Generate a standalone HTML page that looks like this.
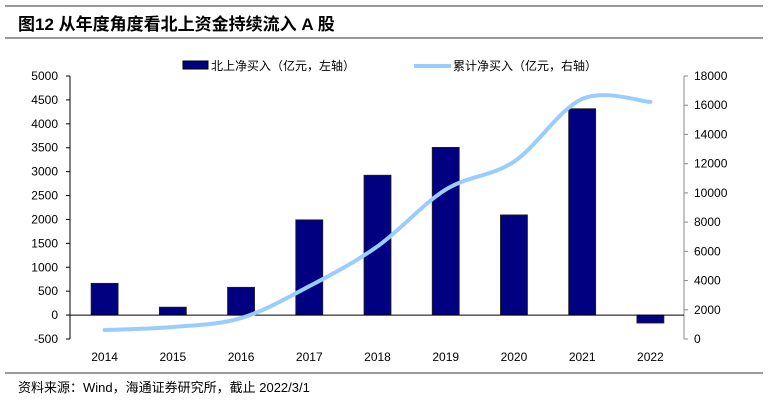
<!DOCTYPE html>
<html><head><meta charset="utf-8"><style>
body{margin:0;background:#fff;}
svg{display:block;font-family:"Liberation Sans","Noto Sans CJK SC",sans-serif;}
</style></head><body>
<svg width="768" height="402">
<line x1="5" y1="6" x2="763" y2="6" stroke="#999" stroke-width="2"/>
<text x="18" y="30" font-size="17" font-weight="bold" fill="#000">图12 从年度角度看北上资金持续流入 A 股</text>
<line x1="5" y1="57" x2="763" y2="57" stroke="#333" stroke-width="1" transform="translate(0,-19)"/>
<g>
<rect x="183" y="61" width="25" height="8" fill="#000080" stroke="#000" stroke-width="1"/>
<text x="211" y="70" font-size="12">北上净买入（亿元，左轴）</text>
<line x1="414" y1="66" x2="451" y2="66" stroke="#99ccff" stroke-width="4"/>
<text x="453" y="70" font-size="12">累计净买入（亿元，右轴）</text>
</g>
<g id="plot"></g>
<line x1="5" y1="373" x2="763" y2="373" stroke="#333" stroke-width="1"/>
<text x="18" y="392" font-size="13">资料来源：Wind，海通证券研究所，截止 2022/3/1</text>
</svg>
<script>
const categories=["2014","2015","2016","2017","2018","2019","2020","2021","2022"];
const netBuy=[664,166,581,1992,2925,3507,2095,4316,-166];
const cumulative=[614,818,1432,3614,6341,10227,12136,16432,16227];
const leftTicks=[-500,0,500,1000,1500,2000,2500,3000,3500,4000,4500,5000];
const rightTicks=[0,2000,4000,6000,8000,10000,12000,14000,16000,18000];
const NS="http://www.w3.org/2000/svg";
const g=document.getElementById('plot');
const X0=70,X1=684,YT=76,YB=339;
const yL=v=>YB-(v+500)/5500*(YB-YT);
const yR=v=>YB-v/18000*(YB-YT);
const step=(X1-X0)/categories.length;
const xC=i=>X0+step*(i+0.5)+0.5;
function mk(t,a){const e=document.createElementNS(NS,t);for(const k in a)e.setAttribute(k,a[k]);g.appendChild(e);return e;}
// axes
let e=mk('line',{x1:X0,y1:YT,x2:X0,y2:YB,stroke:'#000'});

e=mk('line',{x1:X1,y1:YT,x2:X1,y2:YB,stroke:'#888'});

leftTicks.forEach(v=>{
 let t=mk('line',{x1:X0-4,y1:yL(v),x2:X0,y2:yL(v),stroke:'#000'});
 
 let l=mk('text',{x:X0-12,y:yL(v)+4,'font-size':12,'text-anchor':'end'});l.textContent=v;
 
});
rightTicks.forEach(v=>{
 let t=mk('line',{x1:X1,y1:yR(v),x2:X1+4,y2:yR(v),stroke:'#888'});
 
 let l=mk('text',{x:X1+10,y:yR(v)+4,'font-size':12});l.textContent=v;
 
});
const bw=27;
netBuy.forEach((v,i)=>{
 const y0=yL(0),y1=yL(v);
 let r=mk('rect',{x:xC(i)-bw/2,y:Math.min(y0,y1),width:bw,height:Math.abs(y1-y0),fill:'#000080',stroke:'#222','stroke-width':0.8});
 
 let l=mk('text',{x:xC(i),y:361,'font-size':12,'text-anchor':'middle'});l.textContent=categories[i];
 
});
e=mk('line',{x1:X0,y1:yL(0),x2:X1,y2:yL(0),stroke:'#000'});

// smooth line (catmull-rom)
const pts=cumulative.map((v,i)=>[xC(i),yR(v)]);
let d='M'+pts[0][0]+','+pts[0][1];
for(let i=0;i<pts.length-1;i++){
 const p0=pts[i-1]||pts[i],p1=pts[i],p2=pts[i+1],p3=pts[i+2]||p2;
 const c1=[p1[0]+(p2[0]-p0[0])/6,p1[1]+(p2[1]-p0[1])/6];
 const c2=[p2[0]-(p3[0]-p1[0])/6,p2[1]-(p3[1]-p1[1])/6];
 d+=` C${c1[0]},${c1[1]} ${c2[0]},${c2[1]} ${p2[0]},${p2[1]}`;
}
e=mk('path',{d:d,fill:'none',stroke:'#99ccff','stroke-width':4,'stroke-linecap':'round'});

</script>
</body></html>
